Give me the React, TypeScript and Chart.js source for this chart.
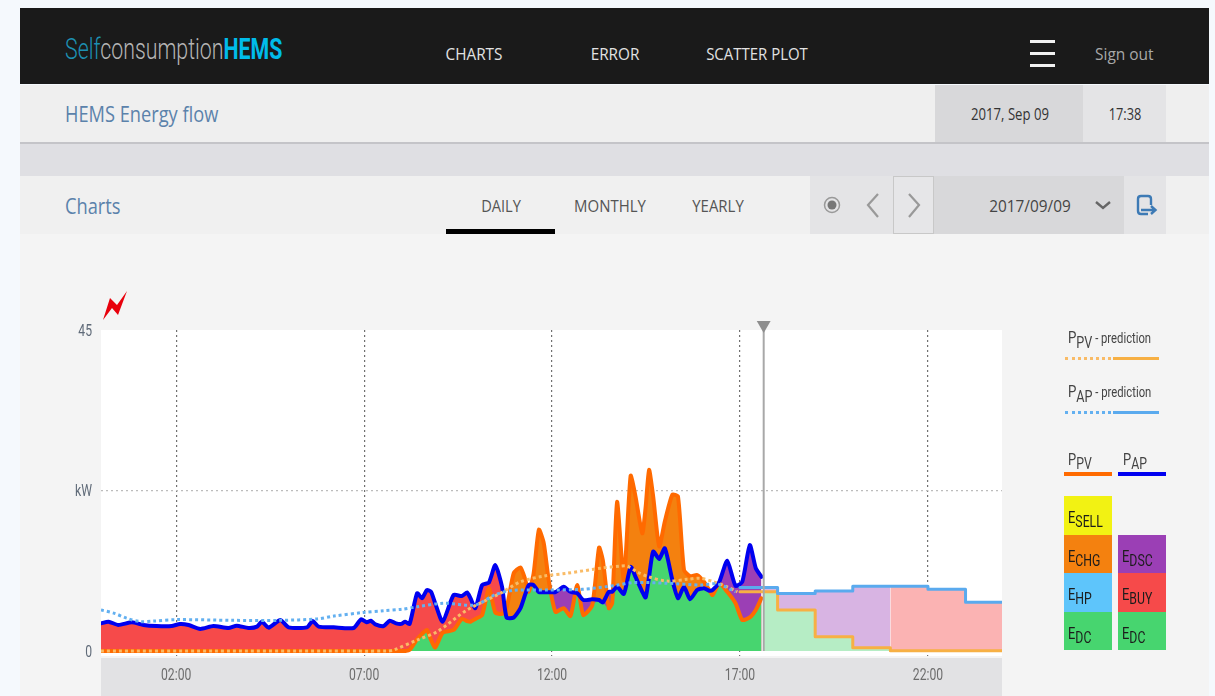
import React, { useEffect, useRef } from "react";
import { Chart, registerables } from "chart.js";

Chart.register(...registerables);

// ---- data (hours of the day, kW) ----
const HOURS = [
  0, 0.2, 0.46, 0.82, 1.13, 1.48, 1.88, 2.1, 2.33, 2.64, 2.99, 3.39, 3.61, 3.92, 4.15, 4.28,
  4.46, 4.77, 4.99, 5.48, 5.63, 5.79, 6.19, 6.72, 6.92, 7.07, 7.18, 7.3, 7.52, 7.68, 7.85,
  7.99, 8.09, 8.21, 8.41, 8.54, 8.67, 8.78, 8.89, 9.09, 9.38, 9.6, 9.74, 9.83, 9.96, 10.14,
  10.32, 10.49, 10.67, 10.79, 10.98, 11.16, 11.29, 11.38, 11.51, 11.65, 11.78, 11.91, 12.09,
  12.31, 12.49, 12.67, 12.83, 13.07, 13.25, 13.35, 13.51, 13.6, 13.73, 13.91, 14.09, 14.22,
  14.4, 14.49, 14.58, 14.69, 14.85, 15.0, 15.2, 15.35, 15.51, 15.67, 15.86, 16.04, 16.18,
  16.27, 16.45, 16.66, 16.88, 17.06, 17.26, 17.42, 17.57,
];
const P_AP = [
  3.88, 4.11, 3.65, 4.02, 3.65, 3.5, 3.5, 3.79, 3.65, 3.09, 3.5, 3.23, 3.55, 3.23, 3.41, 4.11,
  3.27, 4.35, 3.32, 3.32, 4.2, 3.41, 3.32, 3.23, 4.44, 4.02, 4.25, 3.74, 3.5, 4.25, 3.88,
  3.8, 4.1, 3.8, 8.1, 7.4, 8.55, 8.3, 6.7, 4.1, 7.85, 7.7, 8.2, 7.4, 6.0, 9.25,
  9.6, 12.05, 9.0, 4.7, 4.7, 6.0, 8.0, 9.25, 9.25, 8.25, 8.25, 8.25, 8.25,
  9.0, 8.3, 8.1, 7.15, 7.25, 7.15, 6.8, 8.3, 8.3, 9.0, 8.0, 11.8, 10.4,
  8.3, 7.5, 10.4, 13.95, 12.9, 14.4, 9.95, 7.4, 9.0, 7.25, 8.55, 8.8, 8.45,
  8.55, 9.7, 12.65, 9.15, 9.7, 14.85, 11.6, 10.4,
];
const P_PV = [
  0, 0, 0, 0, 0, 0, 0, 0, 0, 0, 0, 0, 0, 0, 0, 0,
  0, 0, 0, 0, 0, 0, 0, 0, 0, 0, 0, 0, 0, 0, 0,
  0, 0, 0.15, 1.65, 2.4, 2.95, 1.55, 0.5, 2.55, 2.95, 4.5, 4.2, 4.1, 4.5, 5.05,
  8.8, 5.4, 5.2, 6.0, 10.9, 11.7, 9.95, 8.3, 10.9, 17.0, 15.1, 9.95, 5.5,
  6.0, 4.9, 9.25, 5.05, 6.45, 14.5, 12.75, 6.0, 6.7, 20.9, 9.95, 24.55, 21.65,
  16.5, 20.2, 25.4, 21.65, 14.65, 18.15, 21.9, 21.65, 11.35, 10.5, 10.65, 9.7, 8.55,
  7.85, 9.5, 8.3, 6.7, 4.35, 4.7, 5.75, 7.4,
];
const NOW_HOUR = 17.63;
const BUY_UNTIL_HOUR = 11.5;

const PRED_HOURS = [17, 18, 19, 20, 21, 22, 23, 24];
const PRED_PV = [8.3, 5.75, 2.0, 0.45, 0.05, 0.05, 0.05, 0.05];
const PRED_AP = [8.9, 8.05, 8.4, 9.07, 9.07, 8.65, 6.85, 6.85];

const FORECAST_PV_HOURS = [0, 3, 6, 7.6, 7.79, 8.41, 8.94, 9.74, 10.63, 11.16, 11.78, 12.4, 13.29, 13.82, 14.0, 14.26, 14.57, 15.06, 15.6, 15.95, 16.3, 16.66, 16.93];
const FORECAST_PV = [0, 0, 0, 0, 0.15, 1.54, 2.7, 5.75, 8.1, 9.7, 10.5, 10.9, 11.6, 11.9, 11.9, 11.1, 10.4, 9.8, 10.05, 10.2, 9.7, 9.0, 8.3];
const FORECAST_AP_HOURS = [0, 0.36, 0.68, 1.04, 1.4, 2, 3.5, 4.77, 5.75, 6.2, 6.98, 7.52, 8.0, 8.41, 9.12, 9.96, 10.49, 10.98, 11.9, 12.8, 13.7, 14.17, 15.06, 15.95, 16.4, 16.88];
const FORECAST_AP = [5.75, 5.28, 4.6, 4.13, 4.2, 4.4, 4.3, 4.3, 4.5, 4.9, 5.4, 5.65, 5.85, 6.2, 6.7, 6.45, 7.9, 8.5, 8.55, 8.65, 9.2, 9.6, 9.5, 9.25, 9.4, 8.3];

const X_TICKS = [2, 7, 12, 17, 22];
const X_LABELS = ["02:00", "07:00", "12:00", "17:00", "22:00"];
const Y_TICKS = [0, 22.5, 45];
const Y_LABELS = ["0", "kW", "45"];

const C = {
  pvLine: "#ff6a00", apLine: "#0000f0", chg: "#f4810f", buy: "#f64a4a", dsc: "#9b3fb5", dc: "#47d56f",
  hp: "#5ec5fb", sell: "#f2f213", lightDc: "#b6edc5", lightDsc: "#d8b4e3", lightBuy: "#fbb3b3",
  predPv: "#f7b044", predAp: "#5aaaee", dotPv: "#f9bb66", dotAp: "#63b0f0",
};

const pts = (xs: number[], ys: number[]) => xs.map((x, i) => ({ x, y: ys[i] }));

function EnergyChart() {
  const ref = useRef<HTMLCanvasElement>(null);
  useEffect(() => {
    const area = (label: string, data: any[], color: string, order: number, extra: any = {}) => ({
      label, data, order, borderWidth: 0, borderColor: "transparent", backgroundColor: color,
      fill: "origin", pointRadius: 0, tension: 0.2, ...extra,
    });
    const line = (label: string, data: any[], color: string, width: number, order: number, extra: any = {}) => ({
      label, data, order, borderColor: color, borderWidth: width, fill: false, pointRadius: 0,
      tension: 0.2, borderJoinStyle: "round", borderCapStyle: "round", ...extra,
    });
    const all = pts(HOURS, P_AP);
    const predAfterNow = (ys: number[]) => [
      { x: NOW_HOUR, y: ys[0] },
      ...PRED_HOURS.slice(1).map((x, i) => ({ x, y: ys[i + 1] })),
    ];
    const apFuture = predAfterNow(PRED_AP);
    const chart = new Chart(ref.current!, {
      type: "line",
      data: {
        datasets: [
          // painter's order: large order = drawn first
          area("ECHG", pts(HOURS, P_PV), C.chg, 20),
          area("EBUY", all.filter((p) => p.x <= BUY_UNTIL_HOUR), C.buy, 19),
          area("EDSC", all.filter((p) => p.x >= BUY_UNTIL_HOUR), C.dsc, 18),
          area("EDC", HOURS.map((x, i) => ({ x, y: Math.min(P_PV[i], P_AP[i]) })), C.dc, 17),
          area("EDSC forecast", apFuture.filter((p) => p.x <= 21), C.lightDsc, 16, { stepped: true, tension: 0 }),
          area("EBUY forecast", apFuture.filter((p) => p.x >= 21), C.lightBuy, 15, { stepped: true, tension: 0 }),
          area("EDC forecast", predAfterNow(PRED_PV), C.lightDc, 14, { stepped: true, tension: 0 }),
          line("PPV", pts(HOURS, P_PV), C.pvLine, 4, 9),
          line("PAP", all, C.apLine, 4, 8),
          line("PPV prediction dotted", pts(FORECAST_PV_HOURS, FORECAST_PV), C.dotPv, 3, 7, { borderDash: [3, 3], borderCapStyle: "butt", tension: 0.3 }),
          line("PAP prediction dotted", pts(FORECAST_AP_HOURS, FORECAST_AP), C.dotAp, 3, 6, { borderDash: [3, 3], borderCapStyle: "butt", tension: 0.3 }),
          line("PPV prediction", pts(PRED_HOURS, PRED_PV), C.predPv, 3, 5, { stepped: true, tension: 0 }),
          line("PAP prediction", pts(PRED_HOURS, PRED_AP), C.predAp, 3, 4, { stepped: true, tension: 0 }),
          {
            label: "now",
            data: [{ x: NOW_HOUR, y: 0 }, { x: NOW_HOUR, y: 45.7 }],
            order: 1, borderColor: "#a8a8a8", borderWidth: 2, fill: false, clip: false,
            pointStyle: "triangle", pointRotation: 180, pointRadius: [0, 8],
            pointBackgroundColor: "#8e8e8e", pointBorderWidth: 0,
          } as any,
        ],
      },
      options: {
        animation: false,
        responsive: false,
        events: [],
        layout: { padding: { top: 330, right: 213, left: 0, bottom: 0 } },
        plugins: { legend: { display: false }, tooltip: { enabled: false } },
        scales: {
          x: {
            type: "linear", min: 0, max: 23.97,
            afterBuildTicks: (s: any) => { s.ticks = X_TICKS.map((value) => ({ value })); },
            afterFit: (s: any) => { s.height = 40; },
            ticks: {
              display: false, autoSkip: false, maxRotation: 0,
              callback: (v: any) => X_LABELS[X_TICKS.indexOf(v)],
            },
            grid: { color: "#707070", lineWidth: 1.2, drawTicks: false },
            border: { display: false, dash: [2, 3] },
          },
          y: {
            type: "linear", min: -0.7, max: 45,
            afterBuildTicks: (s: any) => { s.ticks = Y_TICKS.map((value) => ({ value })); },
            afterFit: (s: any) => { s.width = 101; },
            ticks: {
              display: false, autoSkip: false,
              callback: (v: any) => Y_LABELS[Y_TICKS.indexOf(v)],
            },
            grid: {
              drawTicks: false, lineWidth: 1.2,
              color: (c: any) => (c.tick && c.tick.value === 22.5 ? "#bcbcbc" : "transparent"),
            },
            border: { display: false, dash: [2, 3] },
          },
        },
      },
      plugins: [{
        id: "plotBackground",
        beforeDraw(c: any) {
          const { ctx, chartArea: a } = c;
          ctx.save();
          ctx.fillStyle = "#ffffff";
          ctx.fillRect(a.left, a.top, a.right - a.left, a.bottom - a.top);
          ctx.restore();
        },
        // tick labels of the scales, drawn horizontally condensed as in the reference
        afterDraw(c: any) {
          const { ctx, chartArea: a, scales } = c;
          const squeeze = 0.76;
          ctx.save();
          ctx.font = "16px Roboto";
          ctx.textBaseline = "middle";
          ctx.fillStyle = "#6c6c6c";
          ctx.textAlign = "center";
          scales.x.ticks.forEach((t: any) => {
            ctx.save();
            ctx.translate(scales.x.getPixelForValue(t.value), a.bottom + 19.5);
            ctx.scale(squeeze, 1);
            ctx.fillText(t.label, 0, 0);
            ctx.restore();
          });
          ctx.fillStyle = "#5f6a78";
          ctx.textAlign = "right";
          scales.y.ticks.forEach((t: any) => {
            ctx.save();
            ctx.translate(92, scales.y.getPixelForValue(t.value) + 1.5);
            ctx.scale(squeeze, 1);
            ctx.fillText(t.label, 0, 0);
            ctx.restore();
          });
          ctx.restore();
        },
      }],
    } as any);
    return () => chart.destroy();
  }, []);
  return <canvas ref={ref} width={1215} height={696} style={{ position: "absolute", left: 0, top: 0, width: 1215, height: 696 }} />;
}

function Box({ x, y, w, h, bg, style }: any) {
  return <div style={{ position: "absolute", left: x, top: y, width: w, height: h, background: bg, ...style }} />;
}

function T({ x, y, size = 16, color = "#555", font = "'Open Sans'", sx = 1, weight = 400, align = "left", children }: any) {
  const tx = align === "center" ? "translate(-50%,-50%)" : "translateY(-50%)";
  return (
    <div style={{
      position: "absolute", left: x, top: y, fontFamily: font, fontSize: size, color, fontWeight: weight,
      whiteSpace: "nowrap", lineHeight: 1, transform: `${tx} scaleX(${sx})`, transformOrigin: align === "center" ? "50% 50%" : "0 50%",
    }}>{children}</div>
  );
}

function Sym({ base, sub, rest }: any) {
  return (
    <span>
      {base}
      <sub style={{ fontSize: "0.95em", verticalAlign: "-0.3em", lineHeight: 0 }}>{sub}</sub>
      {rest ? <span style={{ fontSize: "0.85em" }}>{rest}</span> : null}
    </span>
  );
}

const LEGEND_FONT = "Roboto";

function LegendBox({ x, y, bg, sub }: any) {
  return (
    <>
      <Box x={x} y={y} w={48} h={38.5} bg={bg} />
      <T x={x + 4} y={y + 21} size={17} color="#1c1c1c" font={LEGEND_FONT} sx={0.76}><Sym base="E" sub={sub} /></T>
    </>
  );
}

function Dots({ x, y, color }: any) {
  return <div style={{ position: "absolute", left: x, top: y, width: 46, height: 0, borderTop: `3px dotted ${color}` }} />;
}

export default function App() {
  return (
    <div style={{ position: "fixed", left: 0, top: 0, width: 1215, height: 696, overflow: "hidden", background: "#f5f9fd", filter: "blur(0.45px)" }}>
      {/* header */}
      <Box x={20} y={8} w={1189} h={76} bg="#1a1a1a" />
      <T x={65} y={49} size={29} font="Roboto" sx={0.735} weight={300}>
        <span style={{ color: "#1d90b2" }}>Self</span>
        <span style={{ color: "#b5b5b5" }}>consumption</span>
        <span style={{ color: "#00bcea", fontWeight: 700 }}>HEMS</span>
      </T>
      <T x={474} y={53} size={17} color="#e2e2e2" sx={0.9} align="center">CHARTS</T>
      <T x={615} y={53} size={17} color="#e2e2e2" sx={0.9} align="center">ERROR</T>
      <T x={757} y={53} size={17} color="#e2e2e2" sx={0.88} align="center">SCATTER PLOT</T>
      <Box x={1030} y={40} w={25} h={2.5} bg="#f0f0f0" />
      <Box x={1030} y={52} w={25} h={2.5} bg="#f0f0f0" />
      <Box x={1030} y={64} w={25} h={2.5} bg="#f0f0f0" />
      <T x={1095} y={53} size={17} color="#a8a8a8" sx={0.91}>Sign out</T>

      {/* title row */}
      <Box x={20} y={85} w={1189} h={57} bg="#efefef" />
      <Box x={20} y={142} w={1189} h={2} bg="#c4c4c8" />
      <T x={65} y={114} size={21} color="#5b82ab" sx={0.868}>HEMS Energy flow</T>
      <Box x={935} y={85} w={148} h={57} bg="#d8d8da" />
      <Box x={1083} y={85} w={83} h={57} bg="#e4e4e6" />
      <T x={1010} y={114} size={16} color="#333" sx={0.82} align="center">2017, Sep 09</T>
      <T x={1125} y={114} size={16} color="#333" sx={0.8} align="center">17:38</T>

      {/* band */}
      <Box x={20} y={144} w={1189} h={32} bg="#dfdfe3" />

      {/* tabs row */}
      <Box x={20} y={176} w={1189} h={58} bg="#f0f0f0" />
      <Box x={20} y={234} w={1189} h={462} bg="#f4f4f4" />
      <T x={65} y={206} size={21} color="#5b82ab" sx={0.87}>Charts</T>
      <T x={500.5} y={205} size={17} color="#555" sx={0.86} align="center">DAILY</T>
      <T x={609.5} y={205} size={17} color="#555" sx={0.88} align="center">MONTHLY</T>
      <T x={718} y={205} size={17} color="#555" sx={0.88} align="center">YEARLY</T>
      <Box x={446} y={229} w={109} h={5} bg="#000" />
      <Box x={810} y={176} w={83} h={58} bg="#e4e4e6" />
      <Box x={893} y={176} w={41} h={58} bg="#e6e6e8" style={{ boxSizing: "border-box", border: "1px solid #c8c8c8" }} />
      <Box x={934} y={176} w={190} h={58} bg="#d8d8da" />
      <Box x={1124} y={176} w={42} h={58} bg="#e4e4e6" />
      <T x={1029.5} y={206} size={16.5} color="#444" sx={0.93} align="center">2017/09/09</T>
      <svg style={{ position: "absolute", left: 810, top: 176 }} width={360} height={58} fill="none">
        <circle cx={22} cy={29} r={7.5} stroke="#999" strokeWidth={1.5} />
        <circle cx={22} cy={29} r={4.5} fill="#777" />
        <path d="M68 18 L58 29 L68 41" stroke="#999" strokeWidth={2.2} />
        <path d="M99 18 L109 29 L99 41" stroke="#999" strokeWidth={2.2} />
        <path d="M286 26 L293 32 L300 26" stroke="#666" strokeWidth={2.4} />
        <path d="M338 38 L331 38 Q328 38 328 35 L328 23 Q328 20 331 20 L338 20 Q341 20 341 23 L341 29 M331 34 L345 34 M341 30 L345.5 34 L341 38" stroke="#3d7ab5" strokeWidth={2.4} />
      </svg>

      {/* axis band */}
      <Box x={101} y={658} w={901} h={38} bg="#e2e2e4" />

      {/* lightning */}
      <svg style={{ position: "absolute", left: 100, top: 288 }} width={32} height={36}>
        <polygon points="3,32 10,10 17,17 27,3 18,27 12,20" fill="#e8000c" />
      </svg>

      <EnergyChart />

      {/* legend */}
      <T x={1068} y={338} size={17} color="#444" font={LEGEND_FONT} sx={0.78}><Sym base="P" sub="PV" rest=" - prediction" /></T>
      <Dots x={1065} y={357} color={C.dotPv} />
      <Box x={1113} y={357} w={46} h={2.5} bg={C.predPv} />
      <T x={1068} y={392} size={17} color="#444" font={LEGEND_FONT} sx={0.78}><Sym base="P" sub="AP" rest=" - prediction" /></T>
      <Dots x={1065} y={411} color={C.dotAp} />
      <Box x={1113} y={411} w={46} h={2.5} bg={C.predAp} />
      <T x={1068} y={459} size={17} color="#444" font={LEGEND_FONT} sx={0.76}><Sym base="P" sub="PV" /></T>
      <T x={1123} y={459} size={17} color="#444" font={LEGEND_FONT} sx={0.76}><Sym base="P" sub="AP" /></T>
      <Box x={1064} y={472} w={48} h={4} bg={C.pvLine} />
      <Box x={1118} y={472} w={48} h={4} bg={C.apLine} />
      <LegendBox x={1064} y={496} bg={C.sell} sub="SELL" />
      <LegendBox x={1064} y={534.5} bg={C.chg} sub="CHG" />
      <LegendBox x={1064} y={573} bg={C.hp} sub="HP" />
      <LegendBox x={1064} y={611.5} bg={C.dc} sub="DC" />
      <LegendBox x={1118} y={534.5} bg={C.dsc} sub="DSC" />
      <LegendBox x={1118} y={573} bg={C.buy} sub="BUY" />
      <LegendBox x={1118} y={611.5} bg={C.dc} sub="DC" />
    </div>
  );
}
